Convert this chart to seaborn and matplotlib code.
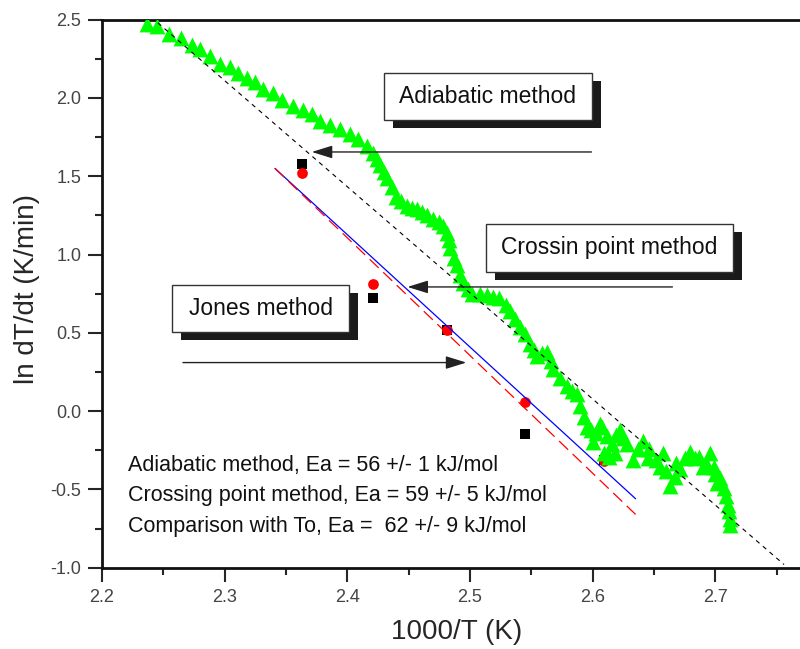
import matplotlib
matplotlib.use('Agg')
import matplotlib.pyplot as plt
import seaborn as sns
import pandas as pd
from matplotlib.patches import Rectangle
from matplotlib.ticker import MultipleLocator

# adiabatic run, ln(dT/dt) vs 1000/T
adiabatic_x = [2.237, 2.245, 2.255, 2.264, 2.273, 2.280, 2.288, 2.296, 2.304, 2.311,
               2.318, 2.325, 2.331, 2.339, 2.347, 2.356, 2.364, 2.371, 2.378, 2.386,
               2.394, 2.402, 2.409, 2.416, 2.421, 2.424, 2.427, 2.430, 2.432, 2.436,
               2.440, 2.444, 2.449, 2.453, 2.457, 2.461, 2.465, 2.470, 2.475, 2.478,
               2.481, 2.483, 2.484, 2.487, 2.489, 2.492, 2.494, 2.498, 2.502, 2.508,
               2.514, 2.519, 2.524, 2.529, 2.533, 2.537, 2.541, 2.545, 2.549, 2.552,
               2.555, 2.559, 2.563, 2.566, 2.568, 2.573, 2.579, 2.583, 2.587, 2.590,
               2.593, 2.595, 2.599, 2.603, 2.606, 2.608, 2.612, 2.616, 2.619, 2.622,
               2.625, 2.628, 2.633, 2.637, 2.641, 2.646, 2.652, 2.657, 2.660, 2.663,
               2.667, 2.671, 2.675, 2.679, 2.683, 2.687, 2.692, 2.696, 2.699, 2.701,
               2.704, 2.707, 2.709, 2.710, 2.711, 2.712, 2.712,
               2.600, 2.609, 2.613, 2.618, 2.645, 2.655, 2.668, 2.690, 2.700]
adiabatic_y = [2.47, 2.46, 2.41, 2.38, 2.34, 2.31, 2.27, 2.22, 2.20, 2.16,
               2.13, 2.10, 2.06, 2.03, 1.99, 1.95, 1.92, 1.90, 1.85, 1.83,
               1.80, 1.77, 1.74, 1.69, 1.65, 1.61, 1.57, 1.53, 1.49, 1.43,
               1.37, 1.34, 1.31, 1.30, 1.29, 1.27, 1.25, 1.23, 1.21, 1.18,
               1.14, 1.09, 1.04, 0.98, 0.93, 0.87, 0.82, 0.78, 0.75, 0.75,
               0.74, 0.73, 0.72, 0.68, 0.64, 0.59, 0.54, 0.49, 0.43, 0.39,
               0.35, 0.37, 0.38, 0.32, 0.27, 0.21, 0.16, 0.13, 0.11, 0.03,
               -0.04, -0.10, -0.12, -0.14, -0.08, -0.10, -0.16, -0.21, -0.15, -0.12,
               -0.17, -0.21, -0.31, -0.24, -0.19, -0.24, -0.31, -0.27, -0.38, -0.48,
               -0.42, -0.37, -0.30, -0.26, -0.30, -0.29, -0.33, -0.27, -0.36, -0.46,
               -0.43, -0.49, -0.54, -0.60, -0.64, -0.69, -0.73,
               -0.20, -0.27, -0.29, -0.27, -0.30, -0.36, -0.33, -0.36, -0.40]

# crossing point method (red) and comparison with To (black)
crossing_x = [2.363, 2.421, 2.481, 2.545, 2.609]
crossing_y = [1.52, 0.81, 0.52, 0.055, -0.32]
to_x = [2.363, 2.421, 2.481, 2.545, 2.609]
to_y = [1.575, 0.725, 0.515, -0.145, -0.315]

# fitted lines
adiabatic_fit_x = [2.2455, 2.756]
adiabatic_fit_y = [2.48, -0.98]
crossing_fit_x = [2.341, 2.635]
crossing_fit_y = [1.55, -0.56]
to_fit_x = [2.341, 2.635]
to_fit_y = [1.55, -0.66]

results = ["Adiabatic method, Ea = 56 +/- 1 kJ/mol",
           "Crossing point method, Ea = 59 +/- 5 kJ/mol",
           "Comparison with To, Ea =  62 +/- 9 kJ/mol"]

sns.set_style('ticks')
plt.rcParams['font.family'] = ['Liberation Sans', 'DejaVu Sans']
plt.rcParams['axes.unicode_minus'] = False

fig = plt.figure(figsize=(8, 6.49), dpi=100)
ax = fig.add_axes([0.1275, 0.1253, 0.8725, 0.8444])

sns.scatterplot(x=to_x, y=to_y, marker='s', s=55, color='black', linewidth=0, ax=ax, zorder=3)
sns.scatterplot(x=crossing_x, y=crossing_y, marker='o', s=60, color='red', linewidth=0, ax=ax, zorder=4)
sns.scatterplot(data=pd.DataFrame({'x': adiabatic_x, 'y': adiabatic_y}), x='x', y='y',
                marker='^', s=130, color='#00ff00', linewidth=0, ax=ax, zorder=5)

sns.lineplot(x=adiabatic_fit_x, y=adiabatic_fit_y, sort=False, color='black', linewidth=0.8,
             linestyle=(0, (4, 4)), ax=ax, zorder=6)
sns.lineplot(x=crossing_fit_x, y=crossing_fit_y, sort=False, color='blue', linewidth=0.9,
             ax=ax, zorder=6)
sns.lineplot(x=to_fit_x, y=to_fit_y, sort=False, color='red', linewidth=0.9,
             linestyle=(0, (10, 5)), ax=ax, zorder=6)

ax.set_xlim(2.2, 2.769)
ax.set_ylim(-1.0, 2.5)
ax.xaxis.set_major_locator(MultipleLocator(0.1))
ax.xaxis.set_minor_locator(MultipleLocator(0.05))
ax.yaxis.set_major_locator(MultipleLocator(0.5))
ax.yaxis.set_minor_locator(MultipleLocator(0.25))
ax.tick_params(which='major', direction='out', length=10, width=1.5, labelsize=13,
               labelcolor='#444444', pad=5)
ax.tick_params(which='minor', direction='out', length=5, width=1.5)
ax.tick_params(top=False, right=False)
ax.spines['right'].set_visible(False)
for side in ['left', 'bottom', 'top']:
    ax.spines[side].set_linewidth(2)
    ax.spines[side].set_color('#111111')

ax.set_xlabel('1000/T (K)', fontsize=20, va='center')
ax.set_ylabel('ln dT/dt (K/min)', fontsize=20, va='center')
ax.xaxis.set_label_coords(0.5086, -0.117)
ax.yaxis.set_label_coords(-0.1074, 0.5086)

# labelled boxes with drop shadow
boxes = [("Adiabatic method", 0.404, 0.817, 0.298, 0.086),
         ("Crossin point method", 0.550, 0.540, 0.354, 0.087),
         ("Jones method", 0.1003, 0.430, 0.2536, 0.086)]
for label, bx, by, bw, bh in boxes:
    ax.add_patch(Rectangle((bx + 0.0135, by - 0.0146), bw, bh, transform=ax.transAxes,
                           facecolor='#1a1a1a', edgecolor='none', zorder=7, clip_on=False))
    ax.add_patch(Rectangle((bx, by), bw, bh, transform=ax.transAxes,
                           facecolor='white', edgecolor='#333333', linewidth=1, zorder=8,
                           clip_on=False))
    ax.text(bx + bw / 2, by + bh / 2, label, transform=ax.transAxes, ha='center',
            va='center', fontsize=16.5, color='#111111', zorder=9)

arrow = dict(arrowstyle='-|>,head_length=0.9,head_width=0.28', color='#222222',
             linewidth=1, mutation_scale=14, shrinkA=0, shrinkB=0)
ax.annotate('', xy=(2.371, 1.655), xytext=(2.599, 1.655), arrowprops=arrow, zorder=7)
ax.annotate('', xy=(2.449, 0.793), xytext=(2.665, 0.793), arrowprops=arrow, zorder=7)
ax.annotate('', xy=(2.497, 0.31), xytext=(2.266, 0.31), arrowprops=arrow, zorder=7)

for line, fy in zip(results, [0.187, 0.132, 0.076]):
    ax.text(0.0372, fy, line, transform=ax.transAxes, ha='left', va='center',
            fontsize=15.5, color='#111111', zorder=9)

plt.savefig('out.png', dpi=100)
